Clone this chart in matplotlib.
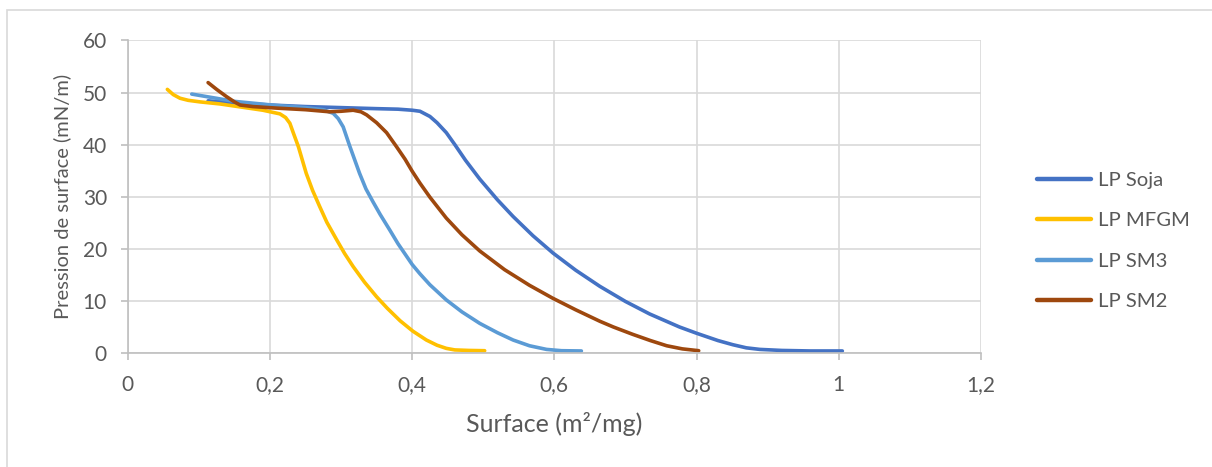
import matplotlib.pyplot as plt
from matplotlib.patches import Rectangle
from matplotlib.ticker import FuncFormatter

plt.rcParams['font.family'] = ['Lato', 'DejaVu Sans']

# surface (m²/mg) et pression (mN/m)
soja_x = [0.113, 0.15, 0.2, 0.25, 0.3, 0.35, 0.38, 0.40, 0.411, 0.425, 0.435, 0.448,
          0.46, 0.475, 0.495, 0.52, 0.542, 0.57, 0.598, 0.63, 0.664, 0.70,
          0.734, 0.776, 0.80, 0.83, 0.851, 0.87, 0.889, 0.92, 0.96, 1.005]
soja_y = [48.4, 48.0, 47.6, 47.3, 47.1, 46.9, 46.8, 46.6, 46.4, 45.4, 44.2, 42.3,
          40.0, 37.0, 33.4, 29.4, 26.2, 22.5, 19.2, 15.9, 12.8, 9.9,
          7.5, 5.0, 3.8, 2.4, 1.6, 1.0, 0.7, 0.5, 0.4, 0.4]

mfgm_x = [0.0557, 0.064, 0.0735, 0.085, 0.1016, 0.13, 0.16, 0.19, 0.214, 0.222, 0.228,
          0.233, 0.240, 0.251, 0.26, 0.270, 0.28, 0.294, 0.305, 0.317, 0.333, 0.350,
          0.365, 0.383, 0.401, 0.42, 0.435, 0.448, 0.46, 0.48, 0.502]
mfgm_y = [50.6, 49.6, 48.9, 48.5, 48.2, 47.8, 47.2, 46.6, 45.9, 45.2, 44.1,
          42.2, 39.6, 34.5, 31.2, 28.1, 25.1, 21.7, 19.1, 16.6, 13.6, 10.8,
          8.6, 6.2, 4.2, 2.5, 1.5, 0.9, 0.6, 0.5, 0.45]

sm3_x = [0.090, 0.12, 0.15, 0.18, 0.21, 0.25, 0.275, 0.289, 0.296, 0.303, 0.312, 0.326,
         0.335, 0.345, 0.355, 0.369, 0.38, 0.392, 0.40, 0.411, 0.425, 0.448, 0.47,
         0.495, 0.52, 0.542, 0.565, 0.589, 0.61, 0.638]
sm3_y = [49.7, 49.0, 48.3, 47.9, 47.5, 47.1, 46.7, 46.0, 45.0, 43.4, 39.8, 34.5,
         31.5, 29.0, 26.6, 23.5, 21.0, 18.6, 17.0, 15.2, 13.1, 10.2, 7.9,
         5.7, 3.9, 2.5, 1.4, 0.7, 0.45, 0.4]

sm2_x = [0.113, 0.125, 0.139, 0.150, 0.158, 0.176, 0.21, 0.25, 0.284, 0.30, 0.317, 0.328,
         0.336, 0.35, 0.364, 0.378, 0.39, 0.40, 0.411, 0.425, 0.448, 0.47, 0.495, 0.53,
         0.565, 0.598, 0.63, 0.664, 0.683, 0.71, 0.735, 0.758, 0.78, 0.803]
sm2_y = [51.9, 50.6, 49.2, 48.2, 47.6, 47.3, 47.0, 46.7, 46.3, 46.4, 46.6, 46.3,
         45.7, 44.2, 42.3, 39.6, 37.2, 34.9, 32.6, 29.9, 25.9, 22.7, 19.6, 16.0,
         13.0, 10.5, 8.3, 6.1, 5.0, 3.6, 2.4, 1.4, 0.8, 0.45]

series = [
    ('LP Soja', soja_x, soja_y, '#4472C4'),
    ('LP MFGM', mfgm_x, mfgm_y, '#FFC000'),
    ('LP SM3', sm3_x, sm3_y, '#5B9BD5'),
    ('LP SM2', sm2_x, sm2_y, '#9E480E'),
]

fig = plt.figure(figsize=(12.12, 4.67), dpi=100)
ax = fig.add_axes([0.1054, 0.244, 0.7040, 0.6695])

# cadre de la zone graphique
fig.patches.append(Rectangle((7 / 1212, -0.01), 1.0, 1 - 10 / 467 + 0.01,
                             transform=fig.transFigure, fill=False,
                             edgecolor='#D9D9D9', linewidth=1.2))

for name, xs, ys, col in series:
    ax.plot(xs, ys, color=col, linewidth=2.6, label=name,
            solid_capstyle='round', solid_joinstyle='round')

ax.set_xlim(0, 1.2)
ax.set_ylim(0, 60)
ax.set_xticks([0, 0.2, 0.4, 0.6, 0.8, 1.0, 1.2])
ax.set_yticks(range(0, 61, 10))
ax.xaxis.set_major_formatter(FuncFormatter(lambda v, p: ('%g' % round(v, 1)).replace('.', ',')))

ax.grid(True, color='#D9D9D9', linewidth=1.2)
ax.set_axisbelow(True)
for s in ['top', 'right']:
    ax.spines[s].set_visible(False)
for s in ['bottom', 'left']:
    ax.spines[s].set_color('#BFBFBF')
    ax.spines[s].set_linewidth(1.2)

ax.tick_params(axis='both', colors='#BFBFBF', labelcolor='#595959', labelsize=15,
               length=5, width=1.2)
ax.tick_params(axis='x', pad=11)
ax.tick_params(axis='y', pad=10)

ax.set_xlabel('Surface (m²/mg)', fontsize=18, color='#595959', labelpad=12)
ax.set_ylabel('Pression de surface (mN/m)', fontsize=14.5, color='#595959', labelpad=8)

leg = ax.legend(loc='center left', bbox_to_anchor=(0.8554, 0.4844),
                bbox_transform=fig.transFigure, frameon=False, fontsize=14.6,
                handlelength=2.7, handletextpad=0.3, labelspacing=1.15,
                borderpad=0, borderaxespad=0)
for t in leg.get_texts():
    t.set_color('#595959')
for h in leg.get_lines():
    h.set_linewidth(3.2)

fig.savefig('out.png', dpi=100)
